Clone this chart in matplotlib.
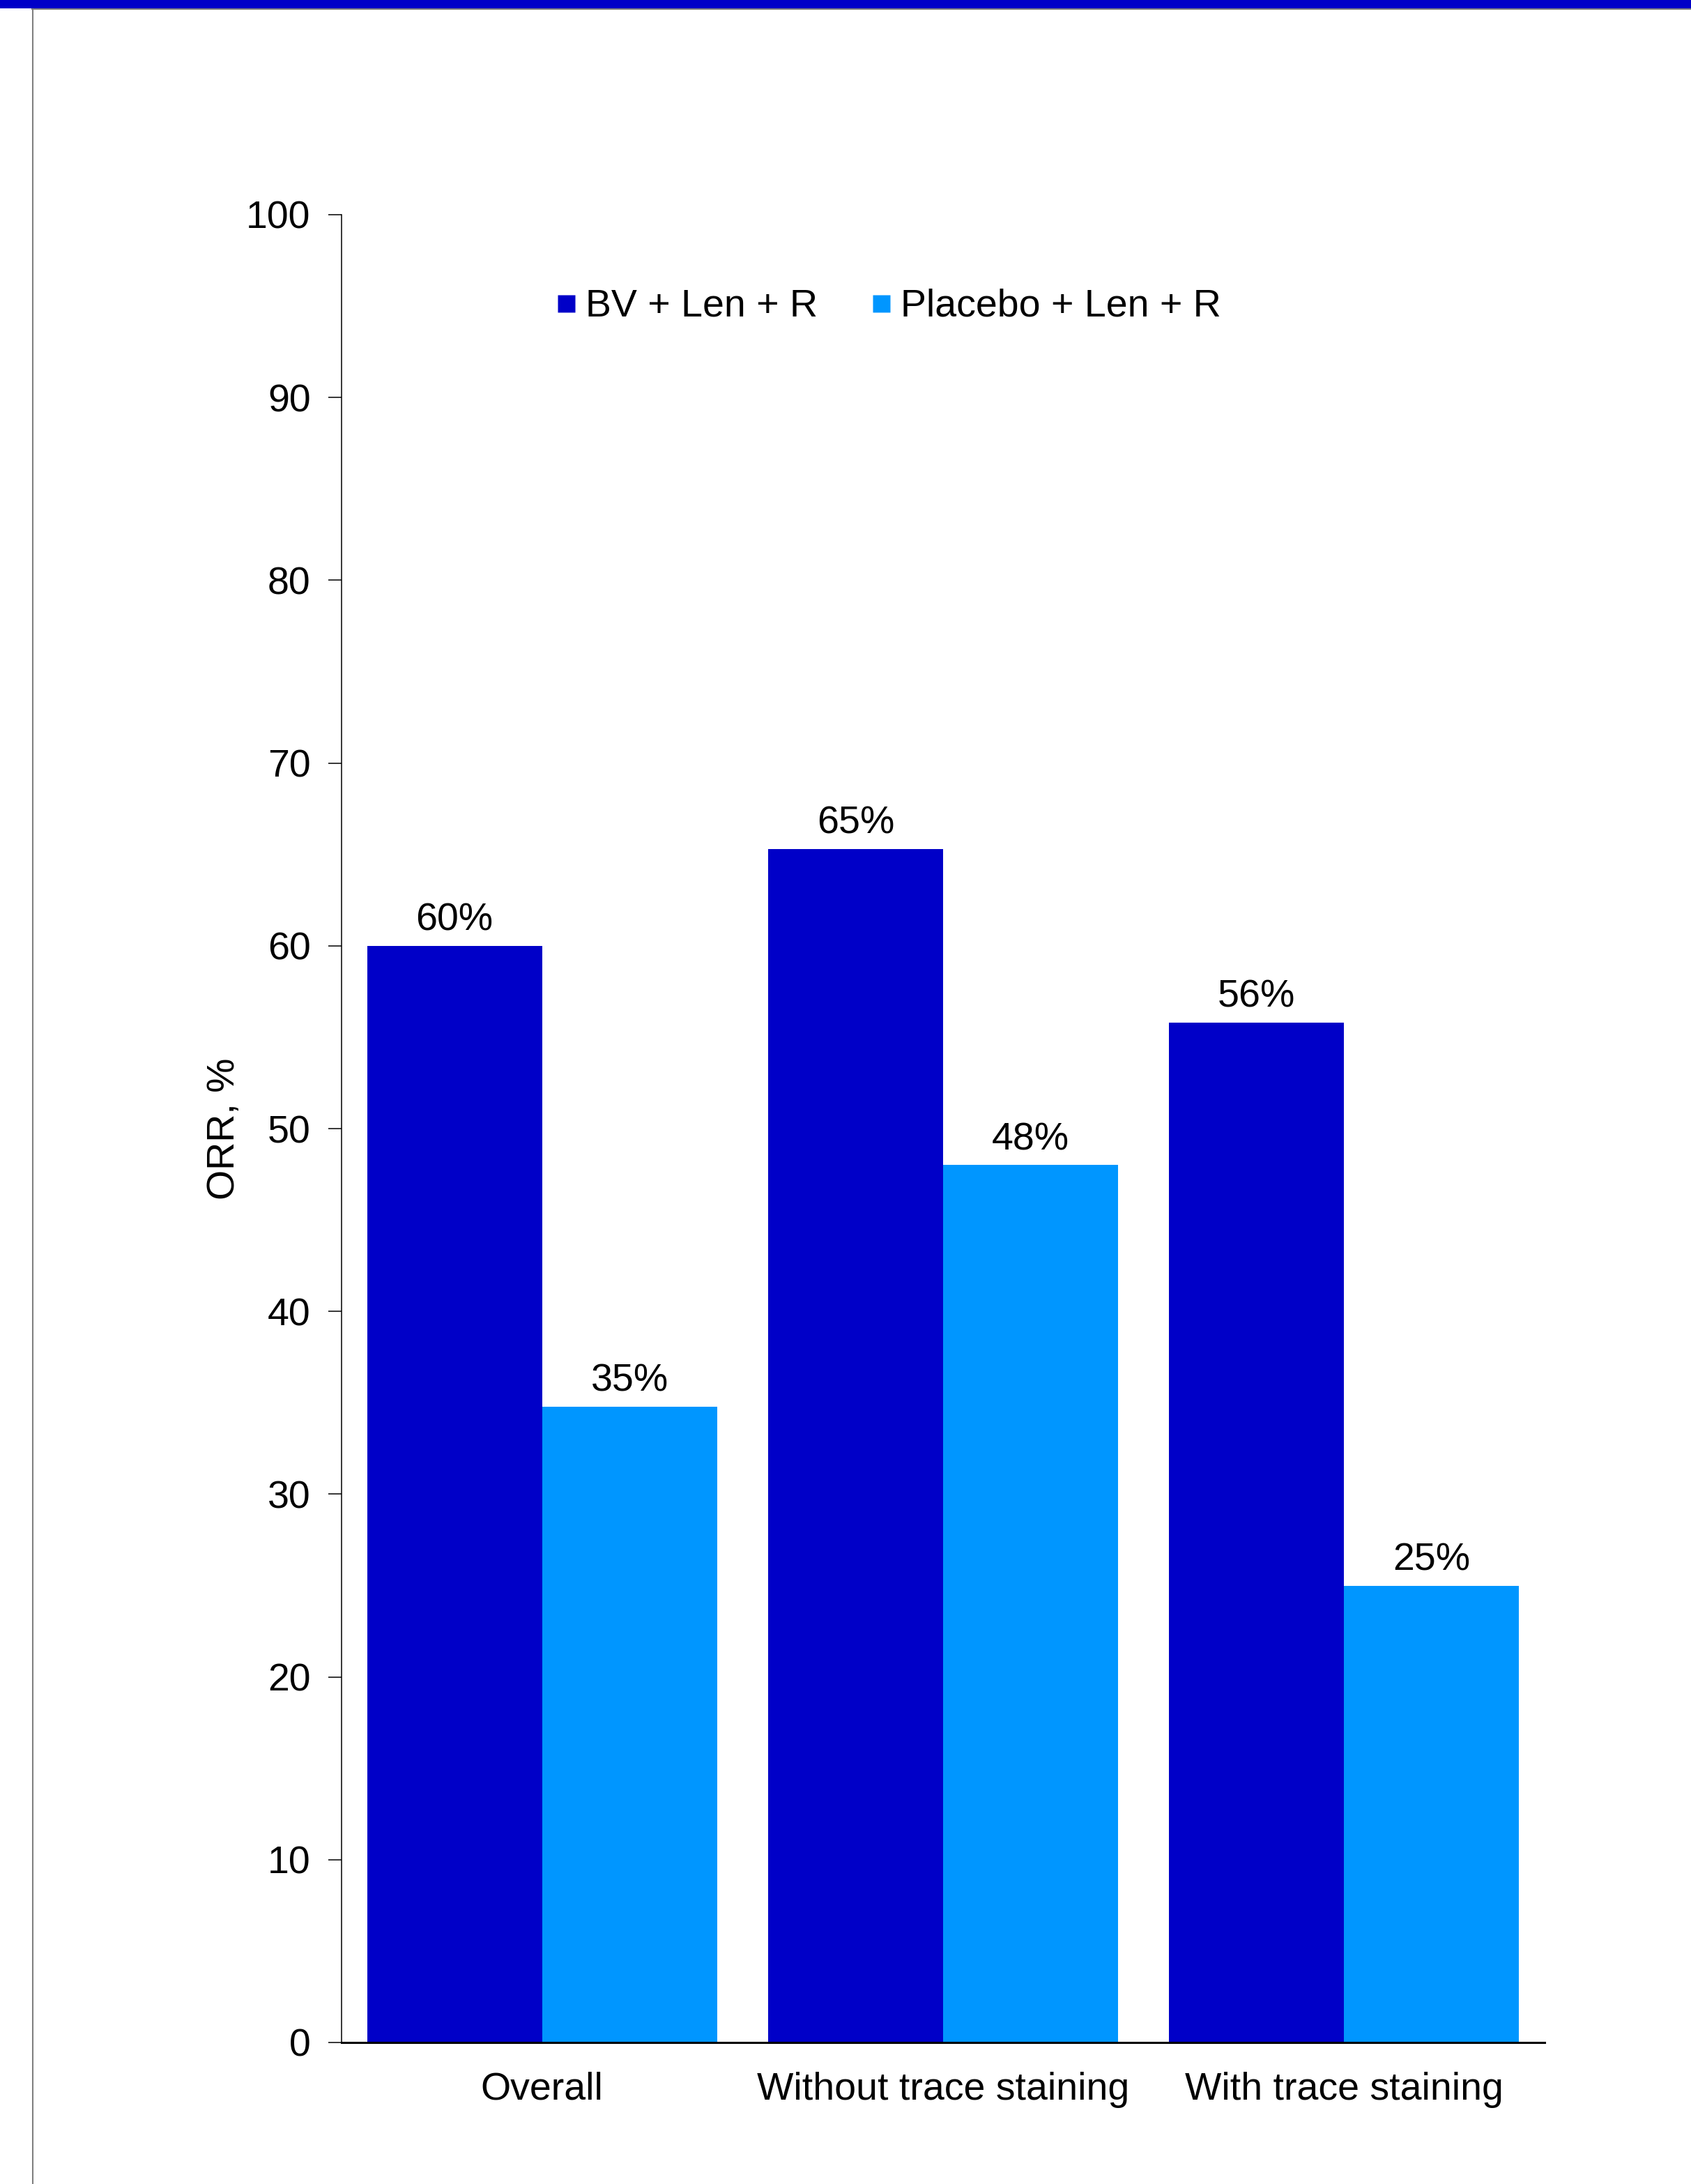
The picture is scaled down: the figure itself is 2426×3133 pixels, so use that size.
import matplotlib.pyplot as plt
import numpy as np
from matplotlib.lines import Line2D
from matplotlib.patches import Rectangle

plt.rcParams['font.family'] = ['Liberation Sans', 'DejaVu Sans']

categories = ['Overall', 'Without trace staining', 'With trace staining']
series_names = ['BV + Len + R', 'Placebo + Len + R']
bv_len_r = [60.0, 65.3, 55.8]
placebo_len_r = [34.8, 48.0, 25.0]
y_ticks = [0, 10, 20, 30, 40, 50, 60, 70, 80, 90, 100]

dark_blue = '#0000C8'
light_blue = '#0096FF'
fs = 40

W, H = 2426, 3133
fig = plt.figure(figsize=(W / 100, H / 100), dpi=100)
fig.patch.set_facecolor('white')

# banner strip and frame lines
fig.patches.append(Rectangle((0, 1 - 12 / H), 1, 12 / H, transform=fig.transFigure,
                             facecolor=dark_blue, edgecolor='none'))
fig.lines.append(Line2D([46 / W, 1], [1 - 13 / H, 1 - 13 / H], transform=fig.transFigure,
                        color='#808080', lw=1.5))
fig.lines.append(Line2D([47 / W, 47 / W], [0, 1 - 13 / H], transform=fig.transFigure,
                        color='#808080', lw=1.5))

ax = fig.add_axes([490 / W, 1 - 2930 / H, (2216 - 490) / W, (2930 - 308) / H])

x = np.arange(len(categories))
width = 0.4365
b1 = ax.bar(x - width / 2, bv_len_r, width, color=dark_blue, label=series_names[0])
b2 = ax.bar(x + width / 2, placebo_len_r, width, color=light_blue, label=series_names[1])

for bars, vals in ((b1, bv_len_r), (b2, placebo_len_r)):
    for rect, v in zip(bars, vals):
        ax.annotate(f'{v:.0f}%', (rect.get_x() + rect.get_width() / 2, v),
                    xytext=(0, 16), textcoords='offset points',
                    ha='center', va='baseline', fontsize=fs)

ax.set_xlim(-0.5, 2.5)
ax.set_ylim(0, 100)
ax.set_yticks(y_ticks)
ax.set_xticks(x)
ax.set_xticklabels(categories)
ax.tick_params(axis='y', length=14, width=1.1, pad=18, labelsize=fs, direction='out')
ax.tick_params(axis='x', length=0, pad=30, labelsize=fs)

for side in ('top', 'right'):
    ax.spines[side].set_visible(False)
ax.spines['left'].set_linewidth(1.1)
ax.spines['bottom'].set_linewidth(2.2)

ax.set_ylabel('ORR, %', fontsize=fs)
ax.yaxis.set_label_coords(-0.082, 0.5)

handles = [Line2D([], [], marker='s', linestyle='none', markersize=18,
                  markerfacecolor=c, markeredgecolor='none')
           for c in (dark_blue, light_blue)]
fig.legend(handles, series_names, loc='center', bbox_to_anchor=(1275 / W, 1 - 440 / H),
           ncol=2, frameon=False, fontsize=fs, handlelength=0.5, handletextpad=0.25,
           columnspacing=1.4)

fig.savefig('out.png', dpi=100)
